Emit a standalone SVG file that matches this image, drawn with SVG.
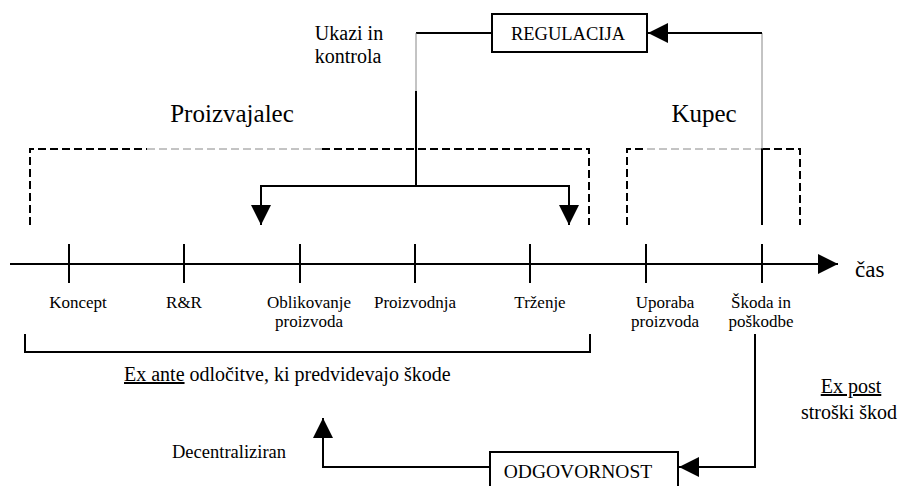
<svg xmlns="http://www.w3.org/2000/svg" width="903" height="486" viewBox="0 0 903 486">
<style>
text{font-family:"Liberation Serif","Times New Roman",serif;fill:#000}
.s{font-size:17px;text-anchor:middle}
.m{font-size:20px}
.b{font-size:25px}
.ln{stroke:#000;stroke-width:2;fill:none}
.gr{stroke:#888;stroke-width:1;fill:none}
.dash{stroke:#000;stroke-width:2;fill:none;stroke-dasharray:8,4}
.gdash{stroke:#888;stroke-width:1;fill:none;stroke-dasharray:8,4}
.box{fill:#fff;stroke:#000;stroke-width:2}
</style>
<defs>
<marker id="ahb" markerWidth="20" markerHeight="20" refX="20" refY="10" orient="auto" markerUnits="userSpaceOnUse" viewBox="0 0 20 20">
<path d="M0,0 L20,10 L0,20 Z" fill="#000"/>
</marker>
</defs>

<g id="connectors">
<!-- timeline -->
<line class="ln" x1="10" y1="264" x2="838" y2="264" marker-end="url(#ahb)"/>
<g class="ln">
<line x1="69" y1="244" x2="69" y2="283"/>
<line x1="184" y1="244" x2="184" y2="283"/>
<line x1="300" y1="244" x2="300" y2="283"/>
<line x1="415" y1="244" x2="415" y2="283"/>
<line x1="530" y1="244" x2="530" y2="283"/>
<line x1="646" y1="244" x2="646" y2="283"/>
<line x1="762" y1="244" x2="762" y2="283"/>
</g>
<!-- dashed brackets -->
<path class="dash" d="M30,225 V149 H147"/>
<line class="gdash" x1="147" y1="149" x2="322" y2="149"/>
<path class="dash" d="M322,149 H589 V225"/>
<path class="dash" d="M627,225 V149 H647"/>
<line class="gdash" x1="647" y1="149" x2="762" y2="149"/>
<path class="dash" d="M762,149 H800 V225"/>
<!-- regulation feedback -->
<line class="ln" x1="762" y1="148" x2="762" y2="225"/>
<line class="gr" x1="762" y1="33" x2="762" y2="149"/>
<line class="ln" x1="762" y1="33" x2="648" y2="33" marker-end="url(#ahb)"/>
<line class="ln" x1="492" y1="33" x2="416" y2="33"/>
<line class="gr" x1="416" y1="33" x2="416" y2="92"/>
<line class="ln" x1="416" y1="91" x2="416" y2="186"/>
<path class="ln" d="M261,186 H569"/>
<line class="ln" x1="261" y1="185" x2="261" y2="225" marker-end="url(#ahb)"/>
<line class="ln" x1="569" y1="185" x2="569" y2="225" marker-end="url(#ahb)"/>
<!-- ex ante bracket -->
<path class="ln" d="M25,334 V352 H590 V334"/>
<!-- liability -->
<path class="ln" d="M755,334 V467 H679" marker-end="url(#ahb)"/>
<path class="ln" d="M490,467 H323 V418" marker-end="url(#ahb)"/>
</g>

<g id="regulacija">
<rect class="box" x="492" y="14" width="155" height="38"/>
<text x="568" y="40" text-anchor="middle" font-size="18.5">REGULACIJA</text>
</g>

<g id="odgovornost">
<rect class="box" x="490" y="452" width="188" height="40"/>
<text x="578" y="478" text-anchor="middle" font-size="19.5">ODGOVORNOST</text>
</g>

<g id="labels">
<text class="m" x="349" y="40" text-anchor="middle">Ukazi in</text>
<text class="m" x="348" y="63" text-anchor="middle">kontrola</text>
<text class="b" x="232" y="122" text-anchor="middle">Proizvajalec</text>
<text class="b" x="704" y="122" text-anchor="middle">Kupec</text>
<text x="855" y="277" font-size="23">čas</text>

<text class="s" x="78" y="308">Koncept</text>
<text class="s" x="184" y="308">R&amp;R</text>
<text class="s" x="309" y="308">Oblikovanje</text>
<text class="s" x="309" y="327">proizvoda</text>
<text class="s" x="415" y="308">Proizvodnja</text>
<text class="s" x="540" y="308">Trženje</text>
<text class="s" x="665" y="308">Uporaba</text>
<text class="s" x="665" y="327">proizvoda</text>
<text class="s" x="761" y="308">Škoda in</text>
<text class="s" x="761" y="327">poškodbe</text>

<text class="m" x="124" y="381"><tspan text-decoration="underline">Ex ante</tspan> odločitve, ki predvidevajo škode</text>
<text x="172" y="458" font-size="18.5">Decentraliziran</text>

<text x="851" y="393" text-anchor="middle" font-size="20" text-decoration="underline">Ex post</text>
<text x="849" y="419" text-anchor="middle" font-size="20">stroški škod</text>
</g>
</svg>
